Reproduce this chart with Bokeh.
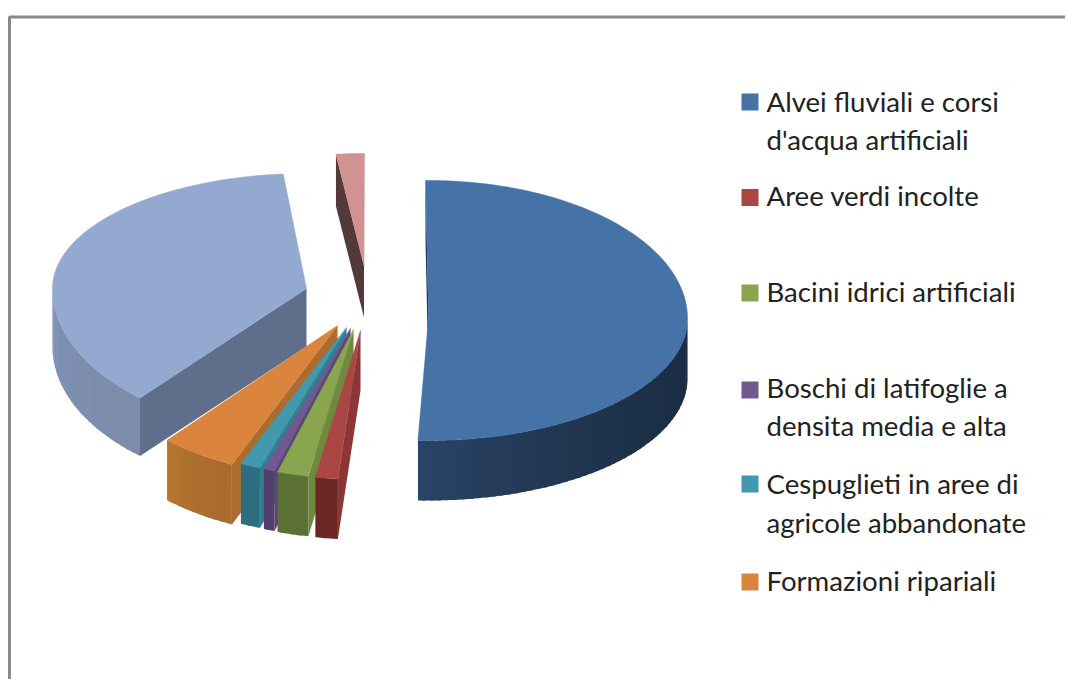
import math
from bokeh.plotting import figure
from bokeh.models import Range1d
from bokeh.core.properties import value
from bokeh.embed import file_html
from bokeh.resources import INLINE

# ---- data: share of each land-cover class (%)
categories = ["Alvei fluviali e corsi d'acqua artificiali", "Aree verdi incolte",
              "Bacini idrici artificiali", "Boschi di latifoglie a densita media e alta",
              "Cespuglieti in aree di agricole abbandonate", "Formazioni ripariali",
              "Altro 1", "Altro 2"]
shares = [51.57, 1.39, 1.94, 0.69, 1.25, 4.72, 37.08, 1.36]
legend_lines = [["Alvei fluviali e corsi", "d'acqua artificiali"], ["Aree verdi incolte"],
                ["Bacini idrici artificiali"], ["Boschi di latifoglie a", "densita media e alta"],
                ["Cespuglieti in aree di", "agricole abbandonate"], ["Formazioni ripariali"]]

# ---- style
top_colors = ["#4572A7", "#AA4643", "#89A54E", "#71588F", "#4198AF", "#DB843D", "#93A9CF", "#D19392"]
# wall colours: arc wall at low angle, arc wall at high angle, cut wall
wall_colors = [("#1a2d44", "#2a4465", "#13304e"), ("#6a2726", "#6a2726", "#8c3735"),
               ("#5a7034", "#5a7034", "#6f8a3f"), ("#533f6c", "#533f6c", "#5b4675"),
               ("#2e6d80", "#2e6d80", "#2f7f95"), ("#a96c2e", "#b5752f", "#ab6c2f"),
               ("#7c8dac", "#8093b8", "#5f6e8a"), ("#54393a", "#54393a", "#54393a")]
# apex x, apex y, rx, ry back, ry front, depth for each exploded slice
geometry = [(428, 318, 259, 138, 122, 60), (360, 330, 260, 149, 149, 60),
            (353, 329, 260, 149, 149, 60), (350, 328, 260, 149, 149, 60),
            (346, 327, 260, 149, 149, 60), (337, 325, 260, 152, 152, 60),
            (306, 288, 254, 115, 145, 58), (363.5, 265, 260, 112, 112, 52)]
# perspective skew of the radial edges, in degrees: (start, end) per slice
twist = [(0, -2.66), (0, 0), (0, 0), (0, 0), (0, 0), (0, 0), (0, 0.3), (-0.64, 0.76)]
first_angle = -0.66
draw_order = [6, 7, 5, 4, 3, 2, 1, 0]
legend_y = [[101, 139], [195], [291], [387, 425], [483, 522], [580]]
legend_box_y = [101.5, 197, 292.5, 389.5, 483.5, 581.5]
W, H = 1065, 679

p = figure(width=W, height=H, output_backend="svg", toolbar_location=None, min_border=0,
           x_range=Range1d(0, W), y_range=Range1d(H, 0), outline_line_color=None,
           background_fill_color="white", border_fill_color="white")
p.axis.visible = False
p.grid.visible = False

def mix(a, b, t):
    ca = [int(a[i:i + 2], 16) for i in (1, 3, 5)]
    cb = [int(b[i:i + 2], 16) for i in (1, 3, 5)]
    return "#%02x%02x%02x" % tuple(round(u + (v - u) * t) for u, v in zip(ca, cb))

def point(g, th):
    ax, ay, rx, ryb, ryf, _ = g
    c = math.cos(th)
    return ax + rx * math.sin(th), ay - (ryb if c > 0 else ryf) * c

total = sum(shares)
start = math.radians(first_angle)
spans = []
for s, tw in zip(shares, twist):
    end = start + s / total * 2 * math.pi
    spans.append((start + math.radians(tw[0]), end + math.radians(tw[1])))
    start = end

for i in draw_order:
    g = geometry[i]
    a, b = spans[i]
    d = g[5]
    ax, ay = g[0], g[1]
    lo, hi, cut = wall_colors[i]
    # cut wall along the starting radius
    ox, oy = point(g, a)
    p.patch([ox, ox, ax, ax], [oy, oy + d, ay + d, ay], fill_color=cut, line_color=None)
    # arc wall on the front half, as overlapping bands so that no seams show
    fa, fb = max(a, math.pi / 2), min(b, 3 * math.pi / 2)
    if fb > fa:
        n = max(2, int((fb - fa) / 0.03))
        for k in range(n):
            t0 = fa + (fb - fa) * k / n
            t1 = min(fb, t0 + (fb - fa) / n + 0.015)
            arc_w = [point(g, t0 + (t1 - t0) * j / 3) for j in range(4)]
            col = mix(lo, hi, (k / max(1, n - 1)) ** 2)
            p.patch([q[0] for q in arc_w] + [q[0] for q in arc_w[::-1]],
                    [q[1] for q in arc_w] + [q[1] + d for q in arc_w[::-1]],
                    fill_color=col, line_color=None)
    # top face
    n = max(3, int((b - a) / 0.02))
    arc = [point(g, a + (b - a) * k / n) for k in range(n + 1)]
    p.patch([ax] + [q[0] for q in arc], [ay] + [q[1] for q in arc],
            fill_color=top_colors[i], line_color=top_colors[i], line_width=0.5)

# legend
for i, (lines, ys) in enumerate(zip(legend_lines, legend_y)):
    p.rect(x=[749.5], y=[legend_box_y[i]], width=17, height=17, fill_color=top_colors[i], line_color=None)
    for line, y in zip(lines, ys):
        p.text(x=[766], y=[y], text=[line], text_font=value("Lato"), text_font_size="27.6px",
               text_baseline="middle", text_align="left", text_color="#222222")

# outer frame of the chart
p.line([9, 9, W], [H, 16.5, 16.5], line_color="#8a8a8a", line_width=3)

open("out.html", "w").write(file_html(p, INLINE))
